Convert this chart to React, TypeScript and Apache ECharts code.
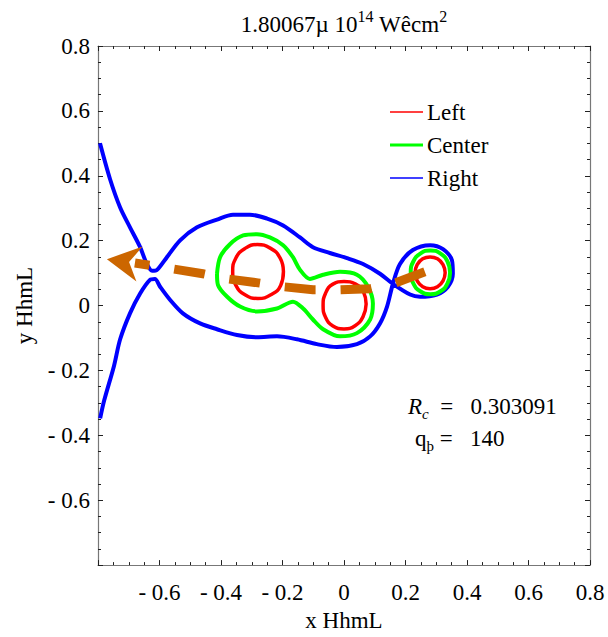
import React, { useEffect, useRef } from "react";
import * as echarts from "echarts";

const AXIS_MIN = -0.8;
const AXIS_MAX = 0.8;
const AXIS_STEP = 0.2;

const legendNames = ["Left", "Center", "Right"];
const legendColors = ["#ff0000", "#00ff00", "#0000ff"];
const legendLineWidths = [1.5, 3, 1.5];

// Blue contour ("Right")
const rightContour: [number, number][] = [
  [-0.7935, 0.5], [-0.761, 0.39], [-0.728, 0.302], [-0.696, 0.241], [-0.663, 0.18],
  [-0.641, 0.128], [-0.624, 0.107], [-0.608, 0.11], [-0.576, 0.149], [-0.533, 0.201],
  [-0.478, 0.241], [-0.413, 0.265], [-0.361, 0.28], [-0.306, 0.28], [-0.25, 0.268],
  [-0.198, 0.247], [-0.143, 0.21], [-0.101, 0.18], [-0.046, 0.162], [0.01, 0.146],
  [0.062, 0.128], [0.117, 0.098], [0.159, 0.067], [0.215, 0.034], [0.247, 0.027],
  [0.302, 0.034], [0.338, 0.058], [0.354, 0.098], [0.351, 0.14], [0.322, 0.174],
  [0.28, 0.186], [0.224, 0.171], [0.182, 0.128], [0.159, 0.067], [0.14, -0.003],
  [0.117, -0.055], [0.085, -0.095], [0.042, -0.119], [-0.023, -0.128], [-0.088, -0.119],
  [-0.153, -0.104], [-0.218, -0.095], [-0.283, -0.098], [-0.348, -0.091], [-0.413, -0.073],
  [-0.468, -0.055], [-0.524, -0.024], [-0.566, 0.018], [-0.598, 0.058], [-0.615, 0.082],
  [-0.631, 0.079], [-0.663, 0.037], [-0.696, -0.024], [-0.728, -0.104], [-0.748, -0.186],
  [-0.78, -0.293], [-0.793, -0.348],
];

// Green contours ("Center")
const centerPeanut: [number, number][] = [
  [-0.413, 0.098], [-0.403, 0.149], [-0.371, 0.189], [-0.328, 0.216], [-0.283, 0.22],
  [-0.241, 0.21], [-0.198, 0.186], [-0.166, 0.149], [-0.143, 0.11], [-0.111, 0.082],
  [-0.068, 0.095], [-0.013, 0.104], [0.042, 0.095], [0.078, 0.058], [0.094, 0.006],
  [0.085, -0.043], [0.042, -0.085], [-0.013, -0.095], [-0.068, -0.073], [-0.101, -0.043],
  [-0.133, -0.009], [-0.166, 0.012], [-0.218, -0.009], [-0.283, -0.018], [-0.338, -0.003],
  [-0.38, 0.027], [-0.41, 0.064], [-0.413, 0.098],
];
const centerSmall: [number, number][] = [
  [0.345, 0.102], [0.337, 0.135], [0.314, 0.16], [0.281, 0.17], [0.248, 0.16],
  [0.225, 0.135], [0.217, 0.102], [0.225, 0.069], [0.248, 0.044], [0.281, 0.035],
  [0.314, 0.044], [0.337, 0.069], [0.345, 0.102],
];

// Red contours ("Left")
const leftCircleA: [number, number][] = [
  [-0.197, 0.105], [-0.208, 0.147], [-0.24, 0.177], [-0.282, 0.188], [-0.322, 0.176],
  [-0.352, 0.146], [-0.362, 0.104], [-0.352, 0.063], [-0.322, 0.033], [-0.28, 0.022],
  [-0.238, 0.033], [-0.206, 0.062], [-0.197, 0.105],
];
const leftCircleB: [number, number][] = [
  [0.072, 0.005], [0.064, 0.04], [0.038, 0.066], [0.0, 0.074], [-0.036, 0.066],
  [-0.06, 0.038], [-0.068, 0.0], [-0.06, -0.036], [-0.036, -0.063], [0.0, -0.072],
  [0.036, -0.062], [0.062, -0.034], [0.072, 0.005],
];
const leftCircleC: [number, number][] = [
  [0.329, 0.101], [0.322, 0.126], [0.304, 0.144], [0.28, 0.15], [0.256, 0.144],
  [0.238, 0.126], [0.231, 0.101], [0.238, 0.076], [0.256, 0.058], [0.28, 0.052],
  [0.304, 0.058], [0.322, 0.076], [0.329, 0.101],
];

// Orange dashed path and arrow head
const arrowPath: [number, number][] = [
  [0.263, 0.104], [0.159, 0.067], [0.085, 0.052], [-0.013, 0.049], [-0.101, 0.049],
  [-0.198, 0.058], [-0.28, 0.07], [-0.377, 0.082], [-0.459, 0.098], [-0.556, 0.113],
  [-0.68, 0.131],
];
const arrowHead: [number, number][] = [
  [-0.771, 0.143], [-0.655, 0.182], [-0.699, 0.134], [-0.675, 0.074],
];

const RED = legendColors[0];
const GREEN = legendColors[1];
const BLUE = legendColors[2];
const ORANGE = "#cc6600";
const FONT = "'Liberation Serif', 'Times New Roman', Times, serif";

function fmt(v: number): string {
  if (v < AXIS_MIN + 1e-6) return "";
  if (Math.abs(v) < 1e-9) return "0";
  if (v < 0) return "- " + Math.abs(v).toFixed(1);
  return v.toFixed(1);
}

function lineSeries(name: string, data: [number, number][], color: string, width: number, smooth: number) {
  return {
    type: "line",
    name,
    data,
    color,
    symbol: "none",
    smooth,
    lineStyle: { color, width },
    z: 2,
  };
}

const LEGEND_X = 390;
const LEGEND_Y = 112;
const LEGEND_STEP = 33;

function legendGraphics() {
  const out: any[] = [];
  legendNames.forEach((n, i) => {
    const y = LEGEND_Y + i * LEGEND_STEP;
    out.push({
      type: "line",
      shape: { x1: LEGEND_X, y1: y, x2: LEGEND_X + 33, y2: y },
      style: { stroke: legendColors[i], lineWidth: legendLineWidths[i] },
      z: 100,
    });
    out.push({
      type: "text",
      x: LEGEND_X + 37,
      y,
      style: {
        text: n,
        fontFamily: FONT,
        fontSize: 23,
        fill: "#000",
        align: "left",
        verticalAlign: "middle",
      },
      z: 100,
    });
  });
  return out;
}

export default function App() {
  const ref = useRef<HTMLDivElement>(null);
  useEffect(() => {
    if (!ref.current) return;
    const chart = echarts.init(ref.current, null, { renderer: "svg" });
    const axisCommon = {
      type: "value",
      min: AXIS_MIN,
      max: AXIS_MAX,
      interval: AXIS_STEP,
      splitLine: { show: false },
      axisLine: { show: true, onZero: false, lineStyle: { color: "#777", width: 1.2 } },
      axisTick: { show: true, inside: true, length: 5, lineStyle: { color: "#222" } },
      minorTick: { show: true, splitNumber: 4, length: 3, lineStyle: { color: "#222" } },
    };
    chart.setOption({
      animation: false,
      backgroundColor: "#ffffff",
      textStyle: { fontFamily: FONT },
      grid: { left: 98, right: 18, top: 46, bottom: 66, containLabel: false },
      xAxis: [
        {
          ...axisCommon,
          position: "bottom",
          name: "x HhmL",
          nameLocation: "middle",
          nameGap: 38,
          nameTextStyle: { fontFamily: FONT, fontSize: 23, color: "#000" },
          axisLabel: { formatter: fmt, fontFamily: FONT, fontSize: 23, color: "#000", margin: 16, showMinLabel: true },
        },
        {
          ...axisCommon,
          position: "top",
          axisLabel: { show: false },
        },
      ],
      yAxis: [
        {
          ...axisCommon,
          position: "left",
          name: "y HhmL",
          nameLocation: "middle",
          nameRotate: 90,
          nameGap: 62,
          nameTextStyle: { fontFamily: FONT, fontSize: 23, color: "#000" },
          axisLabel: { formatter: fmt, fontFamily: FONT, fontSize: 23, color: "#000", margin: 8 },
        },
        {
          ...axisCommon,
          position: "right",
          axisLabel: { show: false },
        },
      ],
      graphic: [
        ...legendGraphics(),
        {
          type: "text",
          x: 344,
          y: 8,
          style: {
            text: "{a|1.80067µ 10}{s|14}{a| Wêcm}{s|2}",
            align: "center",
            verticalAlign: "top",
            rich: {
              a: { fontFamily: FONT, fontSize: 23, fill: "#000", lineHeight: 28, verticalAlign: "bottom" },
              s: { fontFamily: FONT, fontSize: 16, fill: "#000", lineHeight: 16, verticalAlign: "top" },
            },
          },
        },
        {
          type: "text",
          x: 408,
          y: 408,
          style: {
            text: "{i|R}{is|c}{t|  =   0.303091}",
            align: "left",
            verticalAlign: "middle",
            rich: {
              i: { fontFamily: FONT, fontSize: 23, fontStyle: "italic", fill: "#000", lineHeight: 26, verticalAlign: "top" },
              is: { fontFamily: FONT, fontSize: 15, fontStyle: "italic", fill: "#000", lineHeight: 15, verticalAlign: "bottom" },
              t: { fontFamily: FONT, fontSize: 23, fill: "#000", lineHeight: 26, verticalAlign: "top" },
            },
          },
        },
        {
          type: "text",
          x: 415,
          y: 440,
          style: {
            text: "{q|q}{qs|þ}{t| =   140}",
            align: "left",
            verticalAlign: "middle",
            rich: {
              q: { fontFamily: FONT, fontSize: 23, fill: "#000", lineHeight: 26, verticalAlign: "top" },
              qs: { fontFamily: FONT, fontSize: 15, fill: "#000", lineHeight: 15, verticalAlign: "bottom" },
              t: { fontFamily: FONT, fontSize: 23, fill: "#000", lineHeight: 26, verticalAlign: "top" },
            },
          },
        },
      ],
      series: [
        lineSeries("Right", rightContour, BLUE, 4, 0.3),
        lineSeries("Center", centerPeanut, GREEN, 4, 0.3),
        lineSeries("Center", centerSmall, GREEN, 4, 0.5),
        lineSeries("Left", leftCircleA, RED, 3.5, 0.5),
        lineSeries("Left", leftCircleB, RED, 3.5, 0.5),
        lineSeries("Left", leftCircleC, RED, 3.5, 0.5),
        {
          type: "line",
          name: "arrow",
          data: arrowPath,
          symbol: "none",
          color: ORANGE,
          lineStyle: { color: ORANGE, width: 9, type: [31, 25], cap: "butt" },
          z: 5,
        },
        {
          type: "custom",
          name: "arrowHead",
          data: arrowHead,
          encode: { x: 0, y: 1 },
          z: 6,
          renderItem: (params: any, api: any) => {
            if (params.dataIndex !== 0) return null;
            return {
              type: "polygon",
              shape: { points: arrowHead.map((p) => api.coord(p)) },
              style: { fill: ORANGE },
            };
          },
        },
      ],
    });
    return () => chart.dispose();
  }, []);
  return (
    <div
      ref={ref}
      style={{ position: "absolute", left: 0, top: 0, width: 608, height: 637 }}
    />
  );
}
